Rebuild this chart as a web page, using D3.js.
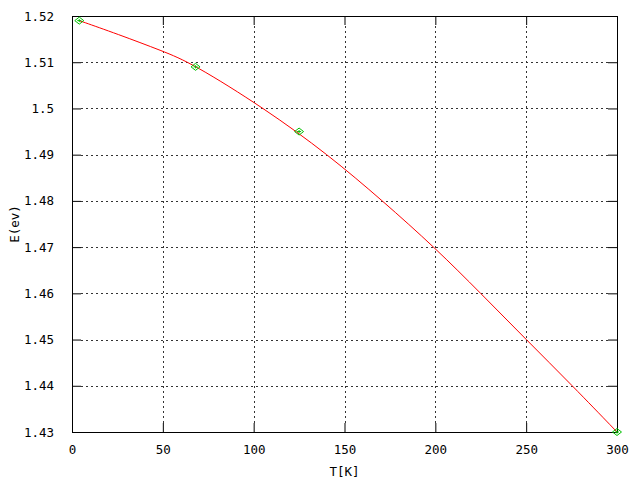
<!DOCTYPE html>
<html>
<head>
<meta charset="utf-8">
<script src="https://cdn.jsdelivr.net/npm/d3@7"></script>
<style>
  body { margin: 0; background: #fff; }
  text { font-family: "DejaVu Sans Mono", monospace; font-size: 12.5px; fill: #000; }
</style>
</head>
<body>
<div id="chart"></div>
<script>
// measured points (green markers)
var pointT = [4, 68, 125, 300];
var pointE = [1.519, 1.509, 1.495, 1.43];

// fitted curve
var curveT = [4, 25, 50, 66, 106, 141, 171, 200, 225, 250, 275.5, 300];
var curveE = [1.519, 1.5161, 1.5124, 1.5098, 1.50, 1.49, 1.48, 1.4698, 1.46, 1.45, 1.44, 1.43];

var xTicks = [0, 50, 100, 150, 200, 250, 300];
var yTicks = [1.43, 1.44, 1.45, 1.46, 1.47, 1.48, 1.49, 1.5, 1.51, 1.52];

var svgWidth = 640, svgHeight = 480;
var margin = { top: 16, right: 23, bottom: 48, left: 72 };
var chartWidth = svgWidth - margin.left - margin.right;
var chartHeight = svgHeight - margin.top - margin.bottom;

var svg = d3.select("#chart").append("svg")
    .attr("width", svgWidth)
    .attr("height", svgHeight);

var chartGroup = svg.append("g")
    .attr("transform", `translate(${margin.left}, ${margin.top})`);

var xScale = d3.scaleLinear().domain([0, 300]).range([0, chartWidth]);
var yScale = d3.scaleLinear().domain([1.43, 1.52]).range([chartHeight, 0]);

var tickLen = 9;

// grid (dotted), skipping the ends that sit on the border
chartGroup.append("g").selectAll("line")
    .data(xTicks.slice(1, -1))
    .enter().append("line")
    .attr("x1", d => Math.round(xScale(d)) + 0.5)
    .attr("x2", d => Math.round(xScale(d)) + 0.5)
    .attr("y1", chartHeight - tickLen)
    .attr("y2", tickLen)
    .attr("stroke", "#333")
    .attr("stroke-dasharray", "2,3");

chartGroup.append("g").selectAll("line")
    .data(yTicks.slice(1, -1))
    .enter().append("line")
    .attr("y1", d => Math.round(yScale(d)) + 0.5)
    .attr("y2", d => Math.round(yScale(d)) + 0.5)
    .attr("x1", tickLen)
    .attr("x2", chartWidth - tickLen)
    .attr("stroke", "#333")
    .attr("stroke-dasharray", "2,3");

// axes with inward ticks
var xAxis = d3.axisBottom(xScale).tickValues(xTicks).tickSize(-tickLen).tickPadding(tickLen + 4).tickFormat(d3.format("d"));
var yAxis = d3.axisLeft(yScale).tickValues(yTicks).tickSize(-tickLen).tickPadding(tickLen + 9).tickFormat(d => d3.format(".2f")(d).replace(/0$/, ""));

chartGroup.append("g")
    .attr("transform", `translate(0, ${chartHeight})`)
    .call(xAxis);
chartGroup.append("g").call(yAxis);

// mirror ticks on top and right
chartGroup.append("g").call(d3.axisTop(xScale).tickValues(xTicks).tickSize(-tickLen).tickFormat(""));
chartGroup.append("g")
    .attr("transform", `translate(${chartWidth}, 0)`)
    .call(d3.axisRight(yScale).tickValues(yTicks).tickSize(-tickLen).tickFormat(""));

chartGroup.selectAll(".domain").remove();
chartGroup.selectAll(".tick line").attr("stroke", "#000");
chartGroup.selectAll(".tick text").style("font-family", "DejaVu Sans Mono, monospace").style("font-size", "12.5px");

// border
chartGroup.append("rect")
    .attr("x", 0.5).attr("y", 0.5)
    .attr("width", chartWidth).attr("height", chartHeight)
    .attr("fill", "none").attr("stroke", "#000");

// fitted curve (smoothed through the readings)
var line = d3.line()
    .x(d => xScale(d[0]))
    .y(d => yScale(d[1]))
    .curve(d3.curveBasis);

chartGroup.append("path")
    .datum(curveT.map((t, i) => [t, curveE[i]]))
    .attr("d", line)
    .attr("fill", "none")
    .attr("stroke", "#ff0000")
    .attr("stroke-width", 1);

// diamond markers
var pts = chartGroup.append("g").selectAll("g")
    .data(pointT.map((t, i) => [t, pointE[i]]))
    .enter().append("g")
    .attr("transform", d => `translate(${xScale(d[0])}, ${yScale(d[1])})`);

pts.append("path")
    .attr("d", "M-4.5,0L0,-3.5L4.5,0L0,3.5Z")
    .attr("fill", "none")
    .attr("stroke", "#00c000");
pts.append("path")
    .attr("d", "M-2,0H2M0,-1.5V1.5")
    .attr("stroke", "#00c000");

// axis labels
svg.append("text")
    .attr("x", margin.left + chartWidth / 2)
    .attr("y", 476)
    .attr("text-anchor", "middle")
    .text("T[K]");

svg.append("text")
    .attr("transform", `translate(19, ${margin.top + chartHeight / 2}) rotate(-90)`)
    .attr("text-anchor", "middle")
    .text("E(ev)");
</script>
</body>
</html>
